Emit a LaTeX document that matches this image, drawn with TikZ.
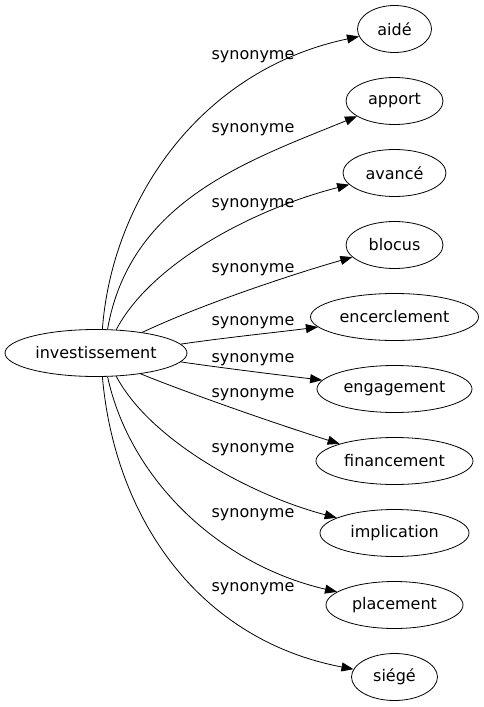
\documentclass[tikz,border=0pt]{standalone}
\usepackage{fontspec}
\setmainfont{DejaVu Sans}
\usetikzlibrary{shapes.geometric,arrows.meta}

\tikzset{
  word/.style = {draw, ellipse, minimum height=47pt, inner sep=0pt, font=\fontsize{16}{19}\selectfont},
  syn/.style = {-{Triangle[length=12pt,width=9pt]}},
  lab/.style = {inner sep=0pt, font=\fontsize{16}{19}\selectfont}
}

\begin{document}
\begin{tikzpicture}[x=1pt,y=-1pt,line width=0.8pt]
\useasboundingbox (0,0) rectangle (483,707);

\node[word, minimum width=182pt] (investissement) at (96,353) {investissement};

\node[word, minimum width=74pt] (aide) at (394.5,29) {aidé};
\node[word, minimum width=97pt] (apport) at (394.5,101) {apport};
\node[word, minimum width=103pt] (avance) at (394.5,173) {avancé};
\node[word, minimum width=97pt] (blocus) at (394.5,245) {blocus};
\node[word, minimum width=168pt] (encerclement) at (394.5,317) {encerclement};
\node[word, minimum width=155pt] (engagement) at (394.5,389) {engagement};
\node[word, minimum width=157pt] (financement) at (394.5,461) {financement};
\node[word, minimum width=149pt] (implication) at (394.5,533) {implication};
\node[word, minimum width=137pt] (placement) at (394.5,605) {placement};
\node[word, minimum width=86pt] (siege) at (394.5,677) {siégé};

% edges, top to bottom
\draw[syn] (investissement.75) .. controls (112,200) and (200,70) .. (aide);
\draw[syn] (investissement.64) .. controls (130,200) and (250,160) .. (apport);
\draw[syn] (investissement.49) .. controls (150,265) and (250,210) .. (avance);
\draw[syn] (investissement.24) .. controls (200,305) and (290,275) .. (blocus);
\draw[syn] (investissement.6) .. controls (230,337) and (280,332) .. (encerclement);
\draw[syn] (investissement.-6) .. controls (230,369) and (280,375) .. (engagement);
\draw[syn] (investissement.-25) .. controls (180,390) and (270,422) .. (financement);
\draw[syn] (investissement.-49) .. controls (150,440) and (250,495) .. (implication);
\draw[syn] (investissement.-64) .. controls (130,480) and (220,565) .. (placement);
\draw[syn] (investissement.-75) .. controls (115,520) and (200,640) .. (siege);

% labels
\node[lab] (s1) at (253,57) {synonyme};
\node[lab] (s2) at (253,130) {synonyme};
\node[lab] (s3) at (253,205) {synonyme};
\node[lab] (s4) at (253,270) {synonyme};
\node[lab] (s5) at (253,323) {synonyme};
\node[lab] (s6) at (253,360) {synonyme};
\node[lab] (s7) at (253,395) {synonyme};
\node[lab] (s8) at (253,450) {synonyme};
\node[lab] (s9) at (253,515) {synonyme};
\node[lab] (s10) at (253,589) {synonyme};

\end{tikzpicture}
\end{document}
